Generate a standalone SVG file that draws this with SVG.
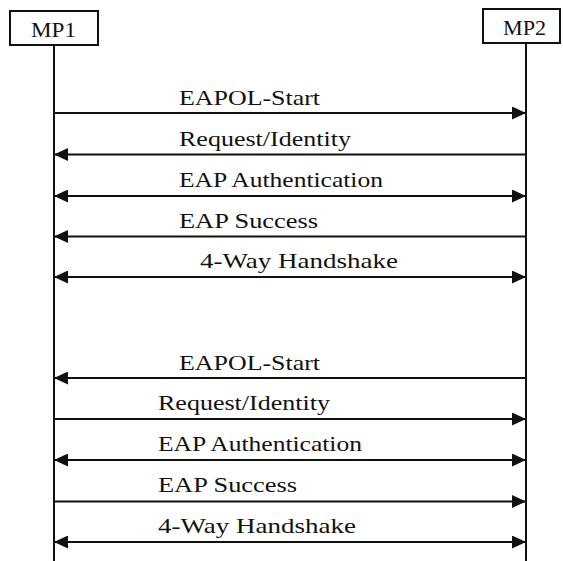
<svg xmlns="http://www.w3.org/2000/svg" width="563" height="561" viewBox="0 0 563 561">
<defs>
<style>
.box{fill:#fff;stroke:#111;stroke-width:2}
.life{stroke:#111;stroke-width:2;fill:none}
.msg{stroke:#111;stroke-width:2.2;fill:none}
.lbl{font-family:"Liberation Serif","Times New Roman",serif;font-size:21px;fill:#111}
.right{marker-end:url(#ah)}
.left{marker-start:url(#ah)}
.both{marker-start:url(#ah);marker-end:url(#ah)}
</style>
<marker id="ah" markerUnits="userSpaceOnUse" viewBox="0 0 14 13" markerWidth="14" markerHeight="13" refX="14" refY="6.5" orient="auto-start-reverse">
<path d="M0,0 L14,6.5 L0,13 z" fill="#111"/>
</marker>
</defs>
<rect width="563" height="561" fill="#fff"/>
<g id="MP1">
<rect class="box" x="10" y="11" width="88" height="34"/>
<text class="lbl" x="31" y="37" textLength="45" lengthAdjust="spacingAndGlyphs">MP1</text>
<line class="life" x1="54" y1="45" x2="54" y2="561"/>
</g>
<g id="MP2">
<rect class="box" x="483" y="9" width="77" height="34"/>
<text class="lbl" x="503" y="35" textLength="43" lengthAdjust="spacingAndGlyphs">MP2</text>
<line class="life" x1="526" y1="43" x2="526" y2="561"/>
</g>
<g id="connectors">
<line class="msg right" x1="54" y1="113" x2="526" y2="113"/>
<line class="msg left" x1="54" y1="154.5" x2="526" y2="154.5"/>
<line class="msg both" x1="54" y1="196" x2="526" y2="196"/>
<line class="msg left" x1="54" y1="236.5" x2="526" y2="236.5"/>
<line class="msg both" x1="54" y1="277" x2="526" y2="277"/>
<line class="msg left" x1="54" y1="378" x2="526" y2="378"/>
<line class="msg right" x1="54" y1="419" x2="526" y2="419"/>
<line class="msg both" x1="54" y1="460" x2="526" y2="460"/>
<line class="msg right" x1="54" y1="501.5" x2="526" y2="501.5"/>
<line class="msg both" x1="54" y1="542" x2="526" y2="542"/>
</g>
<g id="labels">
<text class="lbl" x="179" y="105" textLength="141" lengthAdjust="spacingAndGlyphs">EAPOL-Start</text>
<text class="lbl" x="179" y="146" textLength="172" lengthAdjust="spacingAndGlyphs">Request/Identity</text>
<text class="lbl" x="179" y="187" textLength="204" lengthAdjust="spacingAndGlyphs">EAP Authentication</text>
<text class="lbl" x="179" y="228" textLength="139" lengthAdjust="spacingAndGlyphs">EAP Success</text>
<text class="lbl" x="200" y="268" textLength="198" lengthAdjust="spacingAndGlyphs">4-Way Handshake</text>
<text class="lbl" x="179" y="370" textLength="141" lengthAdjust="spacingAndGlyphs">EAPOL-Start</text>
<text class="lbl" x="158" y="410" textLength="172" lengthAdjust="spacingAndGlyphs">Request/Identity</text>
<text class="lbl" x="158" y="451" textLength="204" lengthAdjust="spacingAndGlyphs">EAP Authentication</text>
<text class="lbl" x="158" y="492" textLength="139" lengthAdjust="spacingAndGlyphs">EAP Success</text>
<text class="lbl" x="158" y="533" textLength="198" lengthAdjust="spacingAndGlyphs">4-Way Handshake</text>
</g>
</svg>
